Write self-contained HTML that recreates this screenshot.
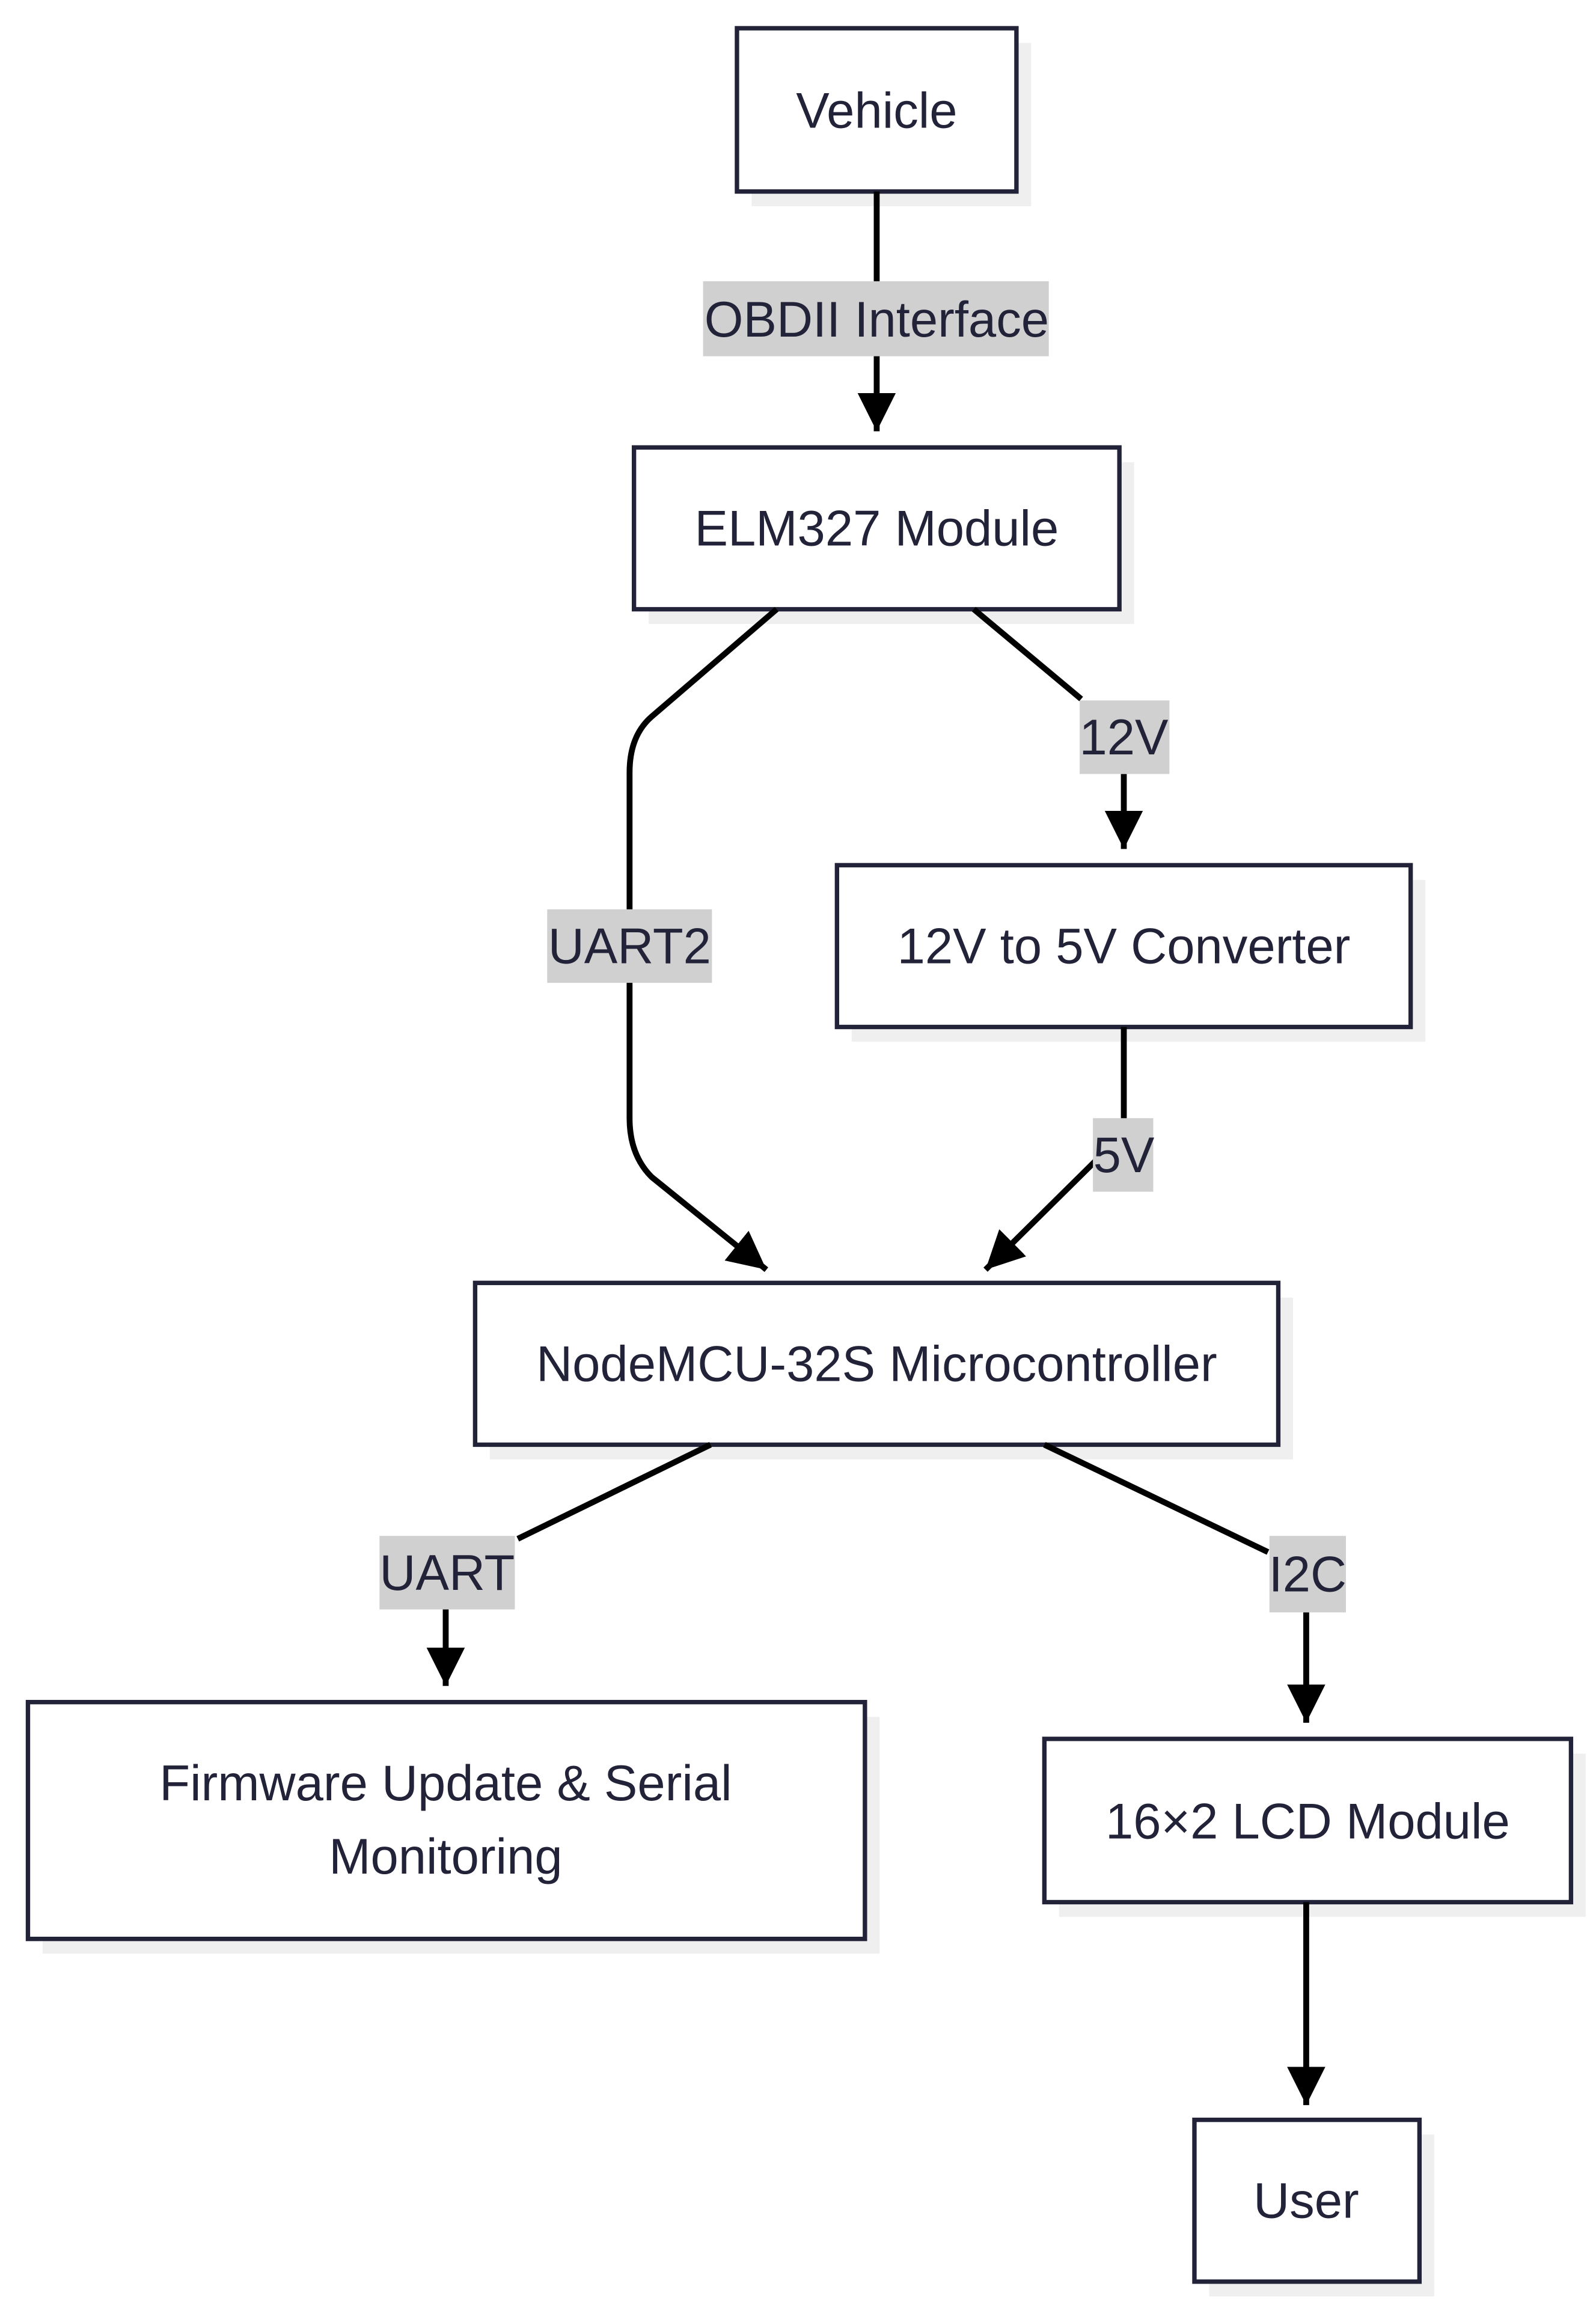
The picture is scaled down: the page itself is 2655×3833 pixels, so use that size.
<!DOCTYPE html>
<html><head><meta charset="utf-8"><style>
html,body{margin:0;padding:0;background:#fff;}
svg{display:block;}
text{font-family:"Liberation Sans",sans-serif;font-size:34px;fill:#222238;text-anchor:middle;dominant-baseline:central;}
</style></head><body>
<svg width="2655" height="3833" viewBox="0 0 1085 1566" xmlns="http://www.w3.org/2000/svg">
<defs>
<marker id="b" viewBox="0 0 10 10" refX="10" refY="5" markerWidth="6.5" markerHeight="6.5" orient="auto" markerUnits="strokeWidth"><path d="M0,0 L10,5 L0,10 z" fill="#000"/></marker></defs>
<g fill="#efefef">
<rect x="511" y="29" width="190" height="111"/>
<rect x="441" y="314" width="330" height="110"/>
<rect x="579" y="598" width="390" height="110"/>
<rect x="333" y="882" width="546" height="110"/>
<rect x="29" y="1167" width="569" height="161"/>
<rect x="720" y="1192" width="358" height="111"/>
<rect x="822" y="1451" width="153" height="110"/>
</g>
<g fill="#fff" stroke="#222238" stroke-width="3">
<rect x="501" y="19" width="190" height="111"/>
<rect x="431" y="304" width="330" height="110"/>
<rect x="569" y="588" width="390" height="110"/>
<rect x="323" y="872" width="546" height="110"/>
<rect x="19" y="1157" width="569" height="161"/>
<rect x="710" y="1182" width="358" height="111"/>
<rect x="812" y="1441" width="153" height="110"/>
</g>
<g stroke="#000" stroke-width="4" fill="none">
<path d="M596,130 V293" marker-end="url(#b)"/>
<path d="M528,414 L443,487 Q428,500 428,525 V760 Q428,785 443,800 L521,863" marker-end="url(#b)"/>
<path d="M662,414 L735,475 M764,526 V577" marker-end="url(#b)"/>
<path d="M764,698 V770 L670,863" marker-end="url(#b)"/>
<path d="M483,982 L352,1046 M303,1094 V1146" marker-end="url(#b)"/>
<path d="M710,982 L862,1055 M888,1096 V1171" marker-end="url(#b)"/>
<path d="M888,1293 V1431" marker-end="url(#b)"/>
</g>
<g fill="#d0d0d0">
<rect x="478" y="191" width="235" height="51"/>
<rect x="372" y="618" width="112" height="50"/>
<rect x="734" y="476" width="61" height="50"/>
<rect x="743" y="760" width="41" height="50"/>
<rect x="258" y="1044" width="92" height="50"/>
<rect x="863" y="1044" width="52" height="52"/>
</g>
<text x="596" y="75">Vehicle</text>
<text x="596" y="359">ELM327 Module</text>
<text x="764" y="643">12V to 5V Converter</text>
<text x="596" y="927">NodeMCU-32S Microcontroller</text>
<text x="303" y="1212">Firmware Update &amp; Serial</text>
<text x="303" y="1262">Monitoring</text>
<text x="889" y="1238">16×2 LCD Module</text>
<text x="888" y="1496">User</text>
<text x="596" y="217">OBDII Interface</text>
<text x="428" y="643">UART2</text>
<text x="764" y="501">12V</text>
<text x="764" y="785">5V</text>
<text x="304" y="1069">UART</text>
<text x="889" y="1070">I2C</text>
</svg>
</body></html>
